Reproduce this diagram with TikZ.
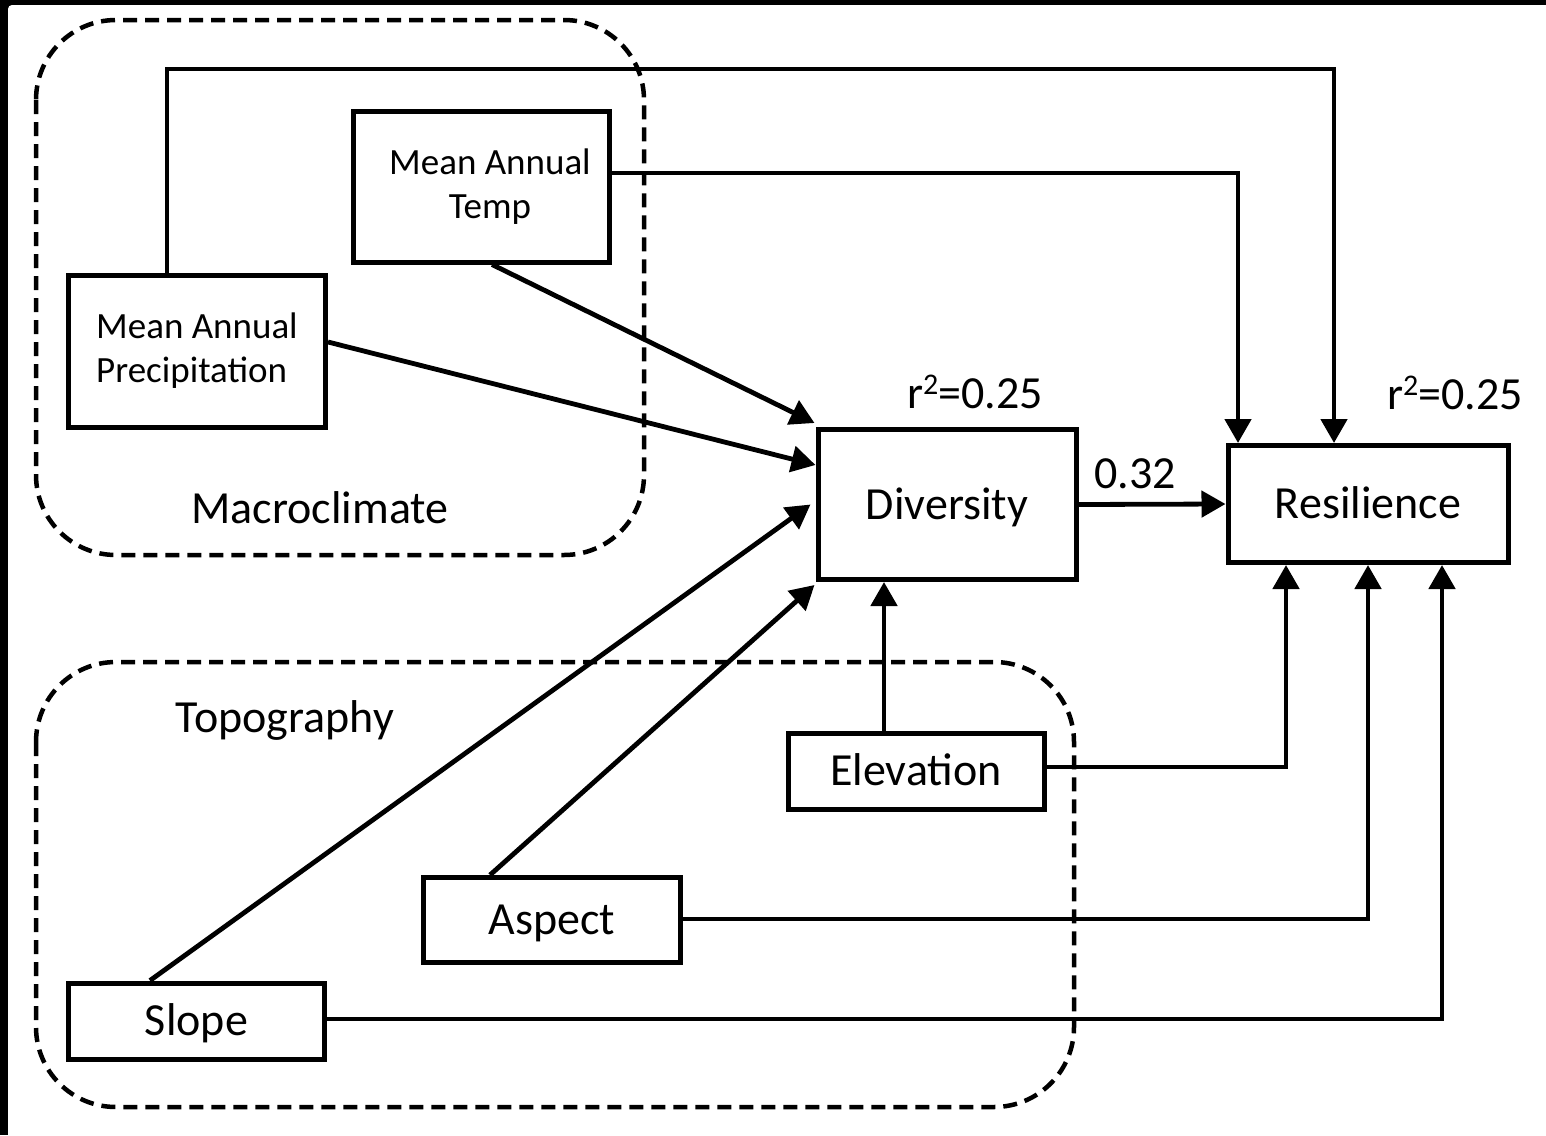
\documentclass[tikz,border=0pt]{standalone}
\usepackage{fontspec}
\setmainfont{Carlito}
\usetikzlibrary{arrows.meta}
\newcommand{\sqsup}{\raisebox{0.32em}{\fontsize{30}{30}\selectfont 2}}
\tikzset{
  box/.style={draw, line width=5pt, rectangle, inner sep=0pt, align=center, fill=white,
    font=\fontsize{46}{55}\selectfont, text height=39.6pt, text depth=10pt},
  smallbox/.style={draw, line width=5pt, rectangle, inner sep=0pt, fill=white,
    font=\fontsize{37}{44}\selectfont},
  group/.style={draw, line width=4.5pt, dash pattern=on 14pt off 8pt, rounded corners=80pt},
  conn/.style={line width=4.8pt},
  arr/.style={conn, -{Triangle[length=24pt,width=26pt]}},
  lbl/.style={inner sep=0pt, font=\fontsize{46}{55}\selectfont}
}
\begin{document}
\begin{tikzpicture}[x=1pt,y=-1pt]
\useasboundingbox (0,0) rectangle (1546,1135);
\fill[black] (0,0) rectangle (1546,1135);
\fill[white, rounded corners=4pt] (8,5) rectangle (1570,1160);

% groups
\draw[group] (36,20) rectangle (644,555);
\draw[group] (36,662) rectangle (1074,1107);
\node[lbl] (macro) at (320,508) {Macroclimate};
\node[lbl] (topo) at (285,720) {Topography};

% boxes
\node[smallbox, minimum width=257pt, minimum height=152pt, align=left] (precip) at (197,351) {Mean Annual\\Precipitation};
\node[smallbox, minimum width=256pt, minimum height=151pt, align=center] (temp) at (481,186.5) {\hspace*{18pt}Mean Annual\\\hspace*{18pt}Temp};
\node[box, minimum width=258pt, minimum height=150pt] (div) at (947,504.5) {Diversity};
\node[box, minimum width=280pt, minimum height=117pt] (res) at (1368,504) {Resilience};
\node[box, minimum width=256pt, minimum height=76pt] (elev) at (916,771) {Elevation};
\node[box, minimum width=257pt, minimum height=85pt] (asp) at (552,920) {Aspect};
\node[box, minimum width=256pt, minimum height=76pt] (slope) at (196.5,1021) {Slope};

% labels
\node[lbl] (r2div) at (975,392) {r\sqsup=0.25};
\node[lbl] (r2res) at (1455,393) {r\sqsup=0.25};
\node[lbl] (coef) at (1135,474) {0.32};

% connectors
\coordinate (c1) at (1334,69);
\draw[arr] ([xshift=-30pt]precip.north) |- (c1) -- (c1 |- res.north);
\coordinate (c2) at ([xshift=-130pt]res.north);
\draw[arr] ([yshift=13.5pt]temp.east) -| (c2);
\draw[arr] ([xshift=11pt]temp.south) -- ([xshift=-1pt,yshift=4pt]div.north west);
\draw[arr] ([yshift=9pt]precip.east) -- ([yshift=39.5pt]div.west);
\draw[arr] ([xshift=-46.5pt]slope.north) -- ([xshift=-5pt]div.west);
\draw[arr] ([xshift=-62pt]asp.north) -- ([xshift=-1pt,yshift=-3pt]div.south west);
\coordinate (e1) at ([xshift=-32pt]elev.north);
\draw[arr] (e1) -- (e1 |- div.south);
\draw[arr] (div.east) -- (res.west);
\coordinate (r1) at ([xshift=-82pt]res.south);
\draw[arr] ([yshift=4pt]elev.east) -| (r1);
\draw[arr] ([yshift=1pt]asp.east) -| (res.south);
\coordinate (r3) at ([xshift=74pt]res.south);
\draw[arr] ([yshift=2pt]slope.east) -| (r3);
\end{tikzpicture}
\end{document}
